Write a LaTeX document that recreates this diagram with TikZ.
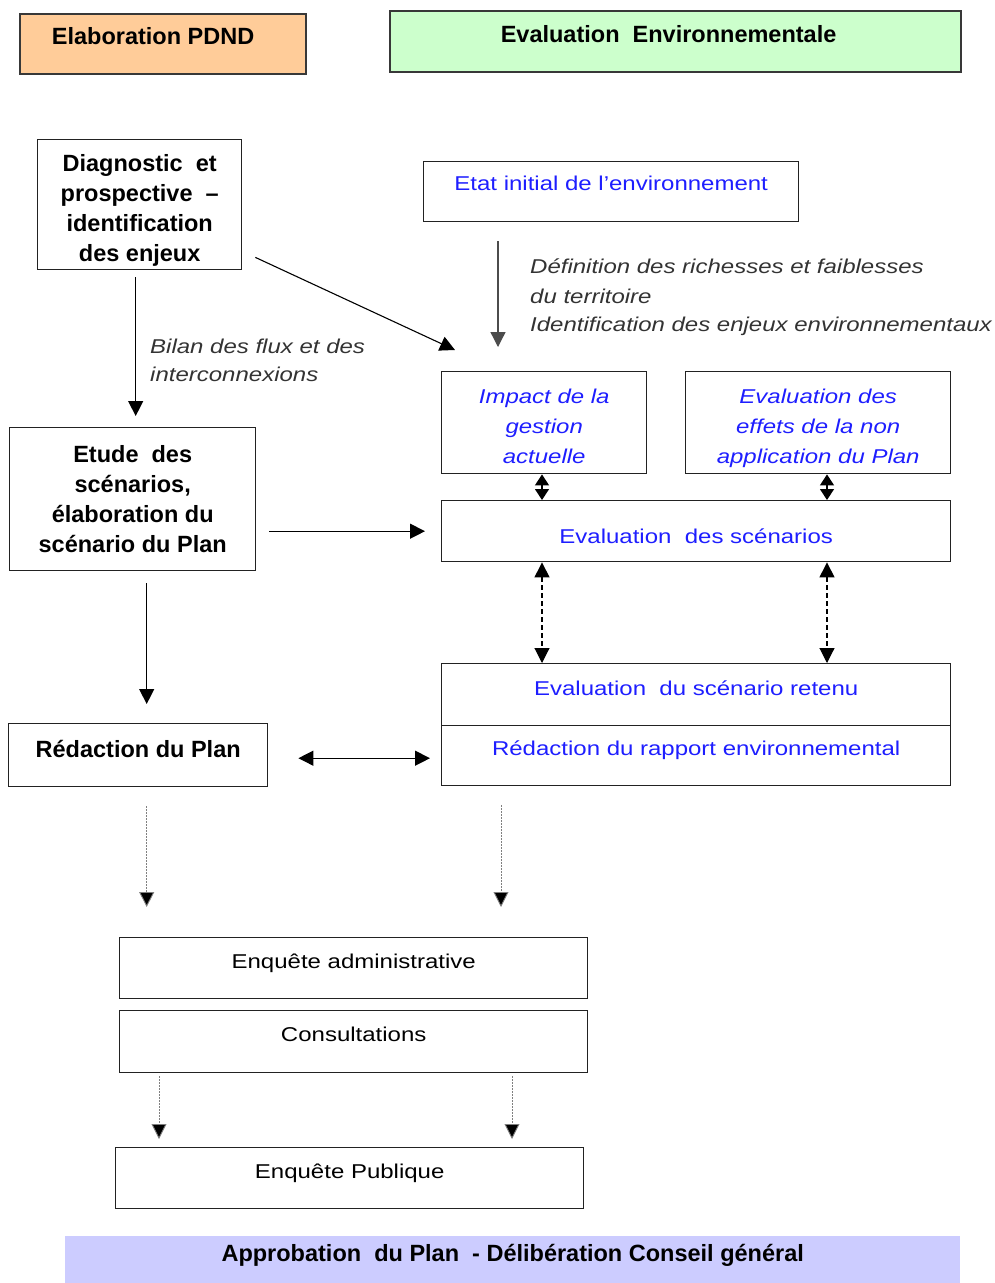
\documentclass[tikz,border=0pt]{standalone}
\usepackage{fontspec}
\setmainfont{Liberation Sans}[FakeStretch=1.2]
\newfontfamily\headfont{Liberation Sans}
\usetikzlibrary{arrows.meta}

\definecolor{peach}{HTML}{FFCC99}
\definecolor{mint}{HTML}{CCFFCC}
\definecolor{lavender}{HTML}{CCCCFF}
\definecolor{ink}{HTML}{1E1EFF}
\definecolor{frame}{HTML}{222222}
\definecolor{notegray}{HTML}{333333}

\tikzset{
  box/.style={draw=frame, line width=1.4pt, anchor=north west, inner sep=0pt, align=center},
  headbox/.style={draw=frame!90, line width=2.2pt, anchor=north west, inner sep=0pt},
  boldtxt/.style={font=\headfont\bfseries\fontsize{23.5}{30}\selectfont, align=center},
  regtxt/.style={font=\fontsize{20}{30}\selectfont},
  bluetxt/.style={regtxt, text=ink},
  blueital/.style={font=\fontsize{20}{30}\selectfont\itshape, text=ink, align=center},
  notetxt/.style={font=\fontsize{20}{30}\selectfont\itshape, text=notegray, anchor=west, inner sep=0pt},
  vpos/.style 2 args={text height=#1pt, text depth=#2pt},
  arr/.style={line width=1.3pt, -{Triangle[length=15pt,width=15pt]}},
  dbl/.style={line width=1.3pt, {Triangle[length=15pt,width=15pt]}-{Triangle[length=15pt,width=15pt]}},
  smalldbl/.style={line width=1.3pt, {Triangle[length=11pt,width=14pt]}-{Triangle[length=11pt,width=14pt]}},
  dashdbl/.style={line width=1.1pt, dash pattern=on 5pt off 3pt, {Triangle[length=15pt,width=15pt]}-{Triangle[length=15pt,width=15pt]}},
  dotarr/.style={line width=0.9pt, draw=gray, dash pattern=on 1.5pt off 1.5pt, -{Triangle[length=15pt,width=15pt,fill=black]}},
}

\begin{document}
\begin{tikzpicture}[x=1pt, y=-1pt]
\useasboundingbox (0,0) rectangle (994,1283);

% column headers
\node[headbox, fill=peach, minimum width=286pt, minimum height=60pt] (hpdnd) at (19,13) {};
\node[boldtxt] (hpdnd-t) at ([xshift=-10pt, yshift=8pt]hpdnd.center) {Elaboration PDND};
\node[headbox, fill=mint, minimum width=571pt, minimum height=61pt] (henv) at (389,10) {};
\node[boldtxt] (henv-t) at ([xshift=-7pt, yshift=7.5pt]henv.center) {Evaluation\ \ Environnementale};

% left column: plan elaboration
\node[box, minimum width=204pt, minimum height=130pt] (diag) at (37,139) {};
\node[boldtxt] (diag-t) at ([yshift=-6pt]diag.center)
  {Diagnostic\ \ et\\prospective\ \ –\\identification\\des enjeux};
\node[box, minimum width=246pt, minimum height=143pt, boldtxt] (etude) at (9,427)
  {Etude\ \ des\\sc\'enarios,\\\'elaboration du\\sc\'enario du Plan};
\node[box, minimum width=259pt, minimum height=63pt, boldtxt, vpos={17}{13}] (redplan) at (8,723)
  {R\'edaction du Plan};

% right column: environmental assessment
\node[box, minimum width=375pt, minimum height=60pt, bluetxt, vpos={14}{15.6}] (etat) at (423,161)
  {Etat initial de l'environnement};
\node[box, minimum width=205pt, minimum height=102pt] (impact) at (441,371) {};
\node[blueital] (impact-t) at ([yshift=-4pt]impact.center)
  {Impact de la\\gestion\\actuelle};
\node[box, minimum width=265pt, minimum height=102pt] (effets) at (685,371) {};
\node[blueital] (effets-t) at ([yshift=-6pt]effets.center)
  {Evaluation des\\effets de la non\\application du Plan};
\node[box, minimum width=509pt, minimum height=61pt, bluetxt, vpos={25}{0}] (evsc) at (441,500)
  {Evaluation\ \ des sc\'enarios};
\node[box, minimum width=509pt, minimum height=62pt, bluetxt, vpos={15.2}{13}] (retenu) at (441,663)
  {Evaluation\ \ du sc\'enario retenu};
\node[box, minimum width=509pt, minimum height=60pt, bluetxt, vpos={14}{14}] (rapport) at (441,725)
  {R\'edaction du rapport environnemental};

% consultation steps
\node[box, minimum width=468pt, minimum height=61pt, regtxt, vpos={14}{14}] (enqadm) at (119,937)
  {Enqu\^ete administrative};
\node[box, minimum width=468pt, minimum height=62pt, regtxt, vpos={14}{14}] (consult) at (119,1010)
  {Consultations};
\node[box, minimum width=468pt, minimum height=61pt, regtxt, vpos={14}{14}] (publique) at (115,1147)
  {Enqu\^ete Publique};

% final approval banner
\node[anchor=north west, fill=lavender, minimum width=895pt, minimum height=47pt, inner sep=0pt,
      font=\headfont\bfseries\fontsize{23.5}{26}\selectfont, vpos={17}{13}] (approb) at (65,1236)
  {Approbation\ \ du Plan\ \ - D\'elib\'eration Conseil g\'en\'eral};

% connector notes
\node[notetxt] (n1) at (530,266) {D\'efinition des richesses et faiblesses};
\node[notetxt] (n2) at (530,296) {du territoire};
\node[notetxt] (n3) at (530,326) {Identification des enjeux environnementaux};
\node[notetxt] (b1) at (150,346) {Bilan des flux et des};
\node[notetxt] (b2) at (150,374) {interconnexions};

% connectors
\draw[arr, draw=black!70] ([xshift=75pt, yshift=-19pt]etat.south west)
  -- ([xshift=57pt, yshift=24pt]impact.north west);
\draw[line width=1.1pt, -{Triangle[length=15pt,width=15pt]}] ([xshift=13pt, yshift=13pt]diag.south east)
  -- ([xshift=14pt, yshift=21pt]impact.north west);
\draw[arr, shorten <=7pt, shorten >=11pt] ([xshift=-4pt]diag.south)
  -- ([xshift=-4pt]diag.south |- etude.north);
\draw[arr, shorten <=13pt, shorten >=16pt] (etude.east |- evsc.west) -- (evsc.west);
\draw[arr, shorten <=12pt, shorten >=19pt] ([xshift=14pt]etude.south)
  -- ([xshift=14pt]etude.south |- redplan.north);
\draw[dbl, shorten <=30pt, shorten >=11pt] ([yshift=-3pt]redplan.east)
  -- ([yshift=-3pt]redplan.east -| rapport.west);

\draw[smalldbl] ([xshift=101pt]impact.south west) -- ([xshift=101pt]evsc.north west);
\draw[smalldbl] ([xshift=386pt]impact.south west) -- ([xshift=386pt]evsc.north west);

\draw[dashdbl] ([xshift=101pt]evsc.south west) -- ([xshift=101pt]retenu.north west);
\draw[dashdbl] ([xshift=386pt]evsc.south west) -- ([xshift=386pt]retenu.north west);

\draw[dotarr, shorten <=19pt, shorten >=30pt] ([xshift=8.5pt]redplan.south)
  -- ([xshift=8.5pt]redplan.south |- enqadm.north);
\draw[dotarr, shorten <=19pt, shorten >=30pt] ([xshift=60pt]rapport.south west)
  -- ([xshift=60pt]rapport.south west |- enqadm.north);
\draw[dotarr, shorten <=3pt, shorten >=8pt] ([xshift=40pt]consult.south west)
  -- ([xshift=40pt]consult.south west |- publique.north);
\draw[dotarr, shorten <=3pt, shorten >=8pt] ([xshift=393pt]consult.south west)
  -- ([xshift=393pt]consult.south west |- publique.north);
\end{tikzpicture}
\end{document}
